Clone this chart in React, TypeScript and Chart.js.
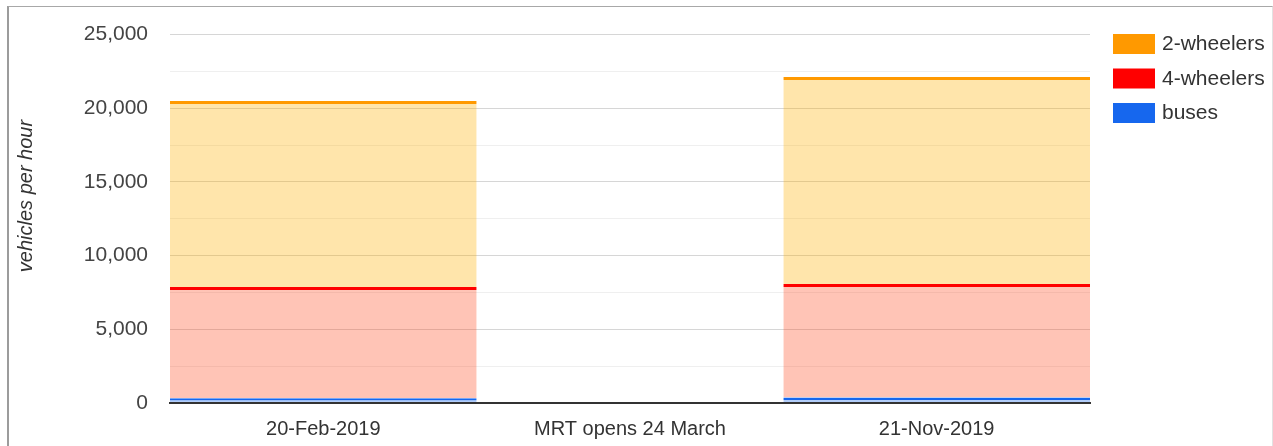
import React, { useEffect, useRef } from "react";
import { Chart, registerables } from "chart.js";

Chart.register(...registerables);

const categories = ["20-Feb-2019", "MRT opens 24 March", "21-Nov-2019"];
const buses = [330, null, 380];
const fourWheelers = [7550, null, 7700];
const twoWheelers = [12620, null, 14050];
const yTicks = [0, 5000, 10000, 15000, 20000, 25000];

const seriesLabels = ["buses", "4-wheelers", "2-wheelers"];
const lineColors = ["#1667ee", "#ff0000", "#ff9900"];
const fillColors = ["rgba(22,102,238,0.33)", "rgba(255,76,34,0.33)", "rgba(255,176,0,0.33)"];

const FONT = "Arial, 'Liberation Sans', sans-serif";

const overlayPlugin = {
  id: "overlay",
  afterDraw(chart: any) {
    const ctx = chart.ctx;
    const area = chart.chartArea;
    ctx.save();
    ctx.translate(26, 196);
    ctx.rotate(-Math.PI / 2);
    ctx.font = "italic 20px " + FONT;
    ctx.fillStyle = "#333";
    ctx.textAlign = "center";
    ctx.textBaseline = "middle";
    ctx.fillText("vehicles per hour", 0, 0);
    ctx.restore();
    ctx.save();
    const ds = chart.data.datasets;
    const x0 = area.right + 23;
    let y0 = 34;
    for (let i = ds.length - 1; i >= 0; i--) {
      ctx.fillStyle = ds[i].borderColor;
      ctx.fillRect(x0, y0, 42, 20);
      ctx.font = "21px " + FONT;
      ctx.fillStyle = "#333";
      ctx.textAlign = "left";
      ctx.textBaseline = "middle";
      ctx.fillText(ds[i].label, x0 + 49, y0 + 10.5);
      y0 += 34.5;
    }
    ctx.restore();
  },
};

export default function App() {
  const ref = useRef<HTMLCanvasElement | null>(null);
  useEffect(() => {
    if (!ref.current) return;
    const series = [buses, fourWheelers, twoWheelers];
    const chart = new Chart(ref.current, {
      type: "bar",
      data: {
        labels: categories,
        datasets: series.map((d, i) => ({
          label: seriesLabels[i],
          data: d,
          backgroundColor: fillColors[i],
          borderColor: lineColors[i],
          borderWidth: { top: 3, left: 0, right: 0, bottom: 0 },
          borderSkipped: "start",
          categoryPercentage: 1,
          barPercentage: 1,
          inflateAmount: 0,
        })),
      },
      options: {
        responsive: false,
        animation: false,
        layout: { padding: { top: 34, right: 183, left: 0, bottom: 0 } },
        plugins: { legend: { display: false }, tooltip: { enabled: false } },
        scales: {
          x: {
            stacked: true,
            grid: { display: false, drawTicks: false },
            border: { display: true, color: "#333", width: 2, z: 1 },
            ticks: { color: "#333", font: { size: 20, family: FONT }, padding: 14, maxRotation: 0 },
            afterFit: (s: any) => { s.height = 43; },
          },
          y: {
            stacked: true,
            min: 0,
            max: 25000,
            grid: {
              drawTicks: false,
              color: (c: any) => {
                const v = c.tick ? c.tick.value : 0;
                if (v === 0) return "rgba(0,0,0,0)";
                return v % 5000 === 0 ? "#d6d6d6" : "#efefef";
              },
            },
            border: { display: false },
            ticks: {
              stepSize: 2500,
              color: "#444",
              padding: 22,
              font: { size: 21, family: FONT },
              callback: (v: any) => (yTicks.includes(Number(v)) ? Number(v).toLocaleString("en-US") : ""),
            },
            afterFit: (s: any) => { s.width = 170; },
          },
        },
      },
      plugins: [overlayPlugin],
    });
    return () => chart.destroy();
  }, []);
  return (
    <div style={{ position: "fixed", left: 0, top: 0, width: 1273, height: 446, background: "#fff" }}>
      <canvas ref={ref} width={1273} height={446} style={{ position: "absolute", left: 0, top: 0 }} />
      <div
        style={{
          position: "absolute",
          left: 7,
          top: 6,
          width: 1263,
          height: 460,
          borderLeft: "2px solid #9c9c9c",
          borderTop: "1px solid #a8a8a8",
          borderRight: "1px solid #e2e2e2",
          pointerEvents: "none",
        }}
      />
    </div>
  );
}
